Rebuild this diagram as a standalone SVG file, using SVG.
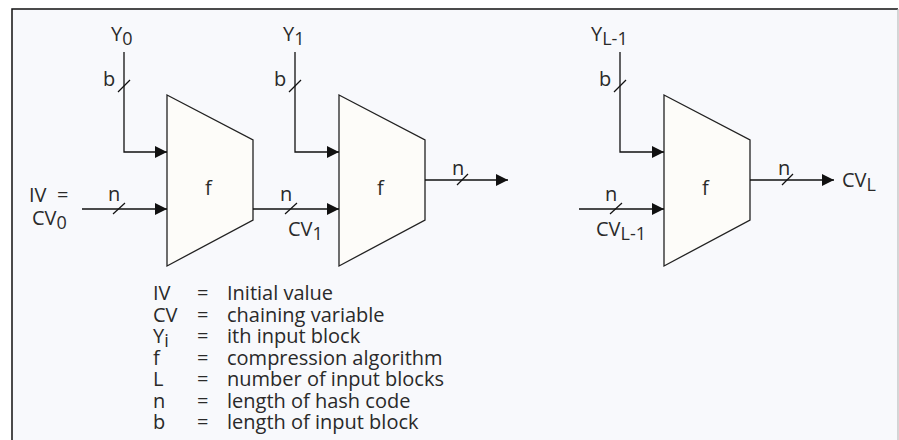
<svg xmlns="http://www.w3.org/2000/svg" width="899" height="440" viewBox="0 0 899 440">
<style>
  text { font-family: "Open Sans", "Liberation Sans", sans-serif; font-size: 20px; fill: #2a2a2a; }
  .sub { font-size: 18px; }
  .blk { fill: #fdfcf9; stroke: #222; stroke-width: 1.3; }
  .wire { fill: none; stroke: #111; stroke-width: 1.3; }
  .tick { stroke: #111; stroke-width: 1.2; }
</style>
<defs>
  <marker id="arr" viewBox="0 0 12 12" refX="12" refY="6" markerWidth="12" markerHeight="12" markerUnits="userSpaceOnUse" orient="auto">
    <path d="M0,0 L12,6 L0,12 Z" fill="#111"/>
  </marker>
</defs>
<rect x="0" y="0" width="899" height="440" fill="#ffffff"/>
<rect x="12" y="9" width="886" height="431" fill="#f8f9fc"/>
<path d="M12,440 V9 H898" fill="none" stroke="#111" stroke-width="1.5"/>
<line x1="898" y1="9" x2="898" y2="440" stroke="#bbb" stroke-width="1.2"/>

<g id="f0">
  <polygon class="blk" points="167,95 253,140 253,220 167,266"/>
  <text x="205" y="195">f</text>
</g>
<g id="f1">
  <polygon class="blk" points="339,95 425,140 425,220 339,266"/>
  <text x="377" y="195">f</text>
</g>
<g id="f2">
  <polygon class="blk" points="664,95 750,140 750,220 664,266"/>
  <text x="702" y="195">f</text>
</g>

<g id="connectors">
  <path class="wire" d="M124,52 V152 H167" marker-end="url(#arr)"/>
  <path class="wire" d="M82,209 H167" marker-end="url(#arr)"/>
  <path class="wire" d="M253,209 H339" marker-end="url(#arr)"/>
  <path class="wire" d="M295,52 V152 H339" marker-end="url(#arr)"/>
  <path class="wire" d="M425,180 H508" marker-end="url(#arr)"/>
  <path class="wire" d="M620,52 V152 H664" marker-end="url(#arr)"/>
  <path class="wire" d="M579,209 H664" marker-end="url(#arr)"/>
  <path class="wire" d="M750,180 H834" marker-end="url(#arr)"/>
  <line class="tick" x1="118" y1="92" x2="130" y2="80"/>
  <line class="tick" x1="289" y1="92" x2="301" y2="80"/>
  <line class="tick" x1="614" y1="92" x2="626" y2="80"/>
  <line class="tick" x1="113" y1="214" x2="125" y2="203"/>
  <line class="tick" x1="285" y1="214" x2="297" y2="203"/>
  <line class="tick" x1="610" y1="214" x2="622" y2="203"/>
  <line class="tick" x1="457" y1="185" x2="468" y2="174"/>
  <line class="tick" x1="782" y1="185" x2="793" y2="174"/>
</g>

<g id="labels">
  <text x="111" y="41">Y<tspan class="sub" dy="4">0</tspan></text>
  <text x="283" y="41">Y<tspan class="sub" dy="4">1</tspan></text>
  <text x="591" y="41">Y<tspan class="sub" dy="4">L-1</tspan></text>
  <text x="103" y="86">b</text>
  <text x="274" y="86">b</text>
  <text x="599" y="86">b</text>
  <text x="29" y="202" xml:space="preserve">IV  =</text>
  <text x="32" y="225">CV<tspan class="sub" dy="4">0</tspan></text>
  <text x="108" y="201">n</text>
  <text x="280" y="201">n</text>
  <text x="605" y="201">n</text>
  <text x="288" y="236">CV<tspan class="sub" dy="4">1</tspan></text>
  <text x="596" y="236">CV<tspan class="sub" dy="4">L-1</tspan></text>
  <text x="452" y="175">n</text>
  <text x="778" y="175">n</text>
  <text x="842" y="187">CV<tspan class="sub" dy="4">L</tspan></text>
</g>

<g id="legend">
  <text x="153" y="300">IV</text><text x="197" y="300">=</text><text x="227" y="300">Initial value</text>
  <text x="153" y="321.5">CV</text><text x="197" y="321.5">=</text><text x="227" y="321.5">chaining variable</text>
  <text x="153" y="343">Y<tspan class="sub" dy="4">i</tspan></text><text x="197" y="343">=</text><text x="227" y="343">ith input block</text>
  <text x="153" y="364.5">f</text><text x="197" y="364.5">=</text><text x="227" y="364.5">compression algorithm</text>
  <text x="153" y="386">L</text><text x="197" y="386">=</text><text x="227" y="386">number of input blocks</text>
  <text x="153" y="407.5">n</text><text x="197" y="407.5">=</text><text x="227" y="407.5">length of hash code</text>
  <text x="153" y="429">b</text><text x="197" y="429">=</text><text x="227" y="429">length of input block</text>
</g>
</svg>
